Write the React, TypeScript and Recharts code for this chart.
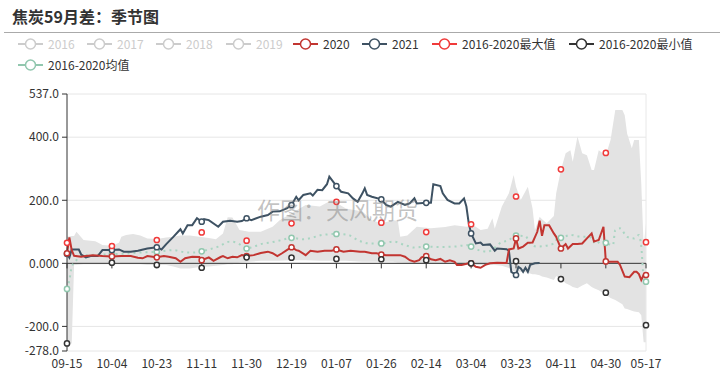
import React from "react";
import {
  ComposedChart,
  Line,
  Area,
  XAxis,
  YAxis,
  CartesianGrid,
  ReferenceLine,
} from "recharts";

// day index from 09-15, one per calendar day (Feb 29 included)
const tickDays = [0, 19, 38, 57, 76, 95, 114, 133, 152, 171, 190, 209, 228, 245];
const tickLabels = ["09-15", "10-04", "10-23", "11-11", "11-30", "12-19", "01-07", "01-26", "02-14", "03-04", "03-23", "04-11", "04-30", "05-17"];
const yTicks = [-278, -200, 0, 200, 400, 537];

const y2020: [number, number][] = [
  [0, 32], [1, 82], [2, 42], [3, 24], [6, 21], [8, 23], [11, 26], [15, 23], [19, 22], [23, 23],
  [27, 23], [30, 18], [32, 16], [34, 23], [37, 20], [38, 19], [41, 23], [43, 21], [46, 16], [48, 5],
  [50, 16], [53, 21], [56, 20], [57, 10], [60, 19], [62, 8], [65, 20], [66, 23], [68, 16], [70, 21],
  [72, 19], [74, 26], [76, 23], [79, 26], [82, 33], [85, 37], [87, 32], [89, 23], [91, 32], [93, 42],
  [95, 51], [97, 42], [98, 40], [101, 26], [103, 40], [106, 37], [109, 40], [112, 40], [114, 44], [117, 37],
  [120, 40], [124, 37], [126, 37], [129, 32], [131, 32], [133, 28], [135, 26], [138, 26], [141, 26], [143, 21],
  [145, 10], [147, 5], [149, 10], [150, 19], [152, 23], [154, 13], [156, 10], [158, 14], [160, 5], [162, 10],
  [164, 5], [165, -5], [167, -5], [170, 0], [171, 0], [173, -11], [175, -14], [177, -5], [179, 0], [182, 2],
  [186, 1], [187, 44], [189, 47], [190, 79], [191, 47], [193, 53], [195, 65], [197, 66], [199, 100], [200, 135],
  [201, 87], [202, 121], [204, 121], [206, 95], [207, 84], [209, 47], [211, 61], [212, 47], [214, 61], [216, 61],
  [218, 63], [220, 79], [222, 95], [223, 69], [225, 74], [227, 116], [228, 6], [230, 5], [233, 5], [234, -5],
  [236, -42], [238, -44], [240, -27], [241, -27], [242, -34], [243, -53], [244, -37], [245, -37],
];

const y2021: [number, number][] = [
  [0, 30], [1, 18], [2, 44], [5, 44], [6, 28], [8, 19], [10, 23], [13, 23], [15, 42], [19, 42],
  [22, 44], [24, 37], [27, 37], [30, 40], [34, 47], [38, 51], [40, 44], [42, 61], [45, 84], [47, 100],
  [48, 108], [49, 95], [51, 121], [53, 121], [55, 143], [57, 132], [58, 140], [60, 137], [64, 116], [66, 132],
  [69, 135], [72, 132], [74, 134], [76, 143], [78, 137], [82, 148], [85, 153], [87, 164], [90, 165], [93, 174],
  [95, 185], [97, 211], [98, 200], [100, 217], [103, 222], [104, 215], [106, 233], [108, 232], [110, 251], [111, 275],
  [113, 255], [114, 245], [116, 227], [119, 222], [121, 206], [123, 195], [125, 222], [126, 238], [127, 217], [129, 211],
  [133, 203], [135, 185], [137, 180], [140, 195], [143, 185], [145, 190], [147, 206], [148, 190], [152, 192], [154, 192],
  [155, 251], [158, 245], [159, 222], [161, 201], [164, 190], [166, 190], [168, 206], [169, 180], [170, 127], [171, 95],
  [173, 63], [175, 66], [176, 58], [179, 60], [181, 40], [182, 47], [186, 45], [187, 40], [188, -27], [190, -37],
  [191, -11], [192, -16], [193, -27], [194, -14], [195, -27], [196, -5], [198, 0], [200, 1],
];

const meanVals: [number, number][] = [
  [0, -81], [1, -53], [2, -11], [4, 10], [5, 21], [8, 26], [12, 27], [16, 28], [19, 29], [23, 30],
  [28, 33], [33, 35], [38, 37], [42, 40], [45, 42], [50, 35], [54, 34], [57, 38], [60, 44], [64, 53],
  [69, 69], [72, 65], [76, 47], [79, 53], [82, 61], [86, 66], [91, 74], [95, 81], [100, 76], [104, 82],
  [108, 90], [114, 93], [119, 90], [123, 74], [128, 63], [133, 63], [138, 69], [143, 58], [147, 50], [152, 53],
  [158, 52], [164, 53], [169, 58], [171, 53], [175, 40], [178, 37], [181, 50], [183, 63], [187, 74], [190, 88],
  [194, 86], [196, 63], [199, 53], [202, 55], [206, 63], [208, 83], [209, 81], [213, 90], [217, 85], [221, 84],
  [224, 61], [226, 72], [228, 65], [231, 58], [232, 105], [234, 111], [237, 84], [240, 79], [242, 90], [243, 53],
  [244, -42], [245, -58],
];

const maxVals = [65, 55, 74, 98, 72, 127, 195, 129, 99, 124, 212, 298, 350, 67];
const minVals = [-254, 2, -5, -14, 19, 18, 14, 13, 10, 0, 7, -50, -93, -196];

// 2016-2020 range band: [day, low, high]
const band: [number, number, number][] = [
  [0, -254, 84], [2, -254, 87], [3, -5, 87], [4, -5, 100], [7, -3, 74], [12, -3, 70], [15, -3, 58], [19, -3, 56],
  [22, -3, 65], [23, -3, 84], [25, -3, 90], [28, -3, 93], [31, -3, 88], [34, -5, 79], [38, -5, 77], [42, -5, 82],
  [45, -10, 84], [48, -16, 88], [52, -16, 88], [56, -12, 84], [60, -10, 80], [63, -8, 76], [66, -5, 95], [68, -3, 146],
  [70, -3, 145], [73, 2, 106], [77, 5, 100], [82, 8, 100], [87, 8, 116], [90, 8, 137], [95, 10, 159], [101, 10, 185],
  [107, 8, 180], [112, 8, 201], [118, 8, 174], [125, 5, 164], [129, 5, 137], [133, 5, 127], [138, 5, 137], [140, 3, 135],
  [141, 3, 84], [144, 2, 88], [148, 0, 116], [154, 0, 111], [160, 0, 115], [164, -3, 121], [169, -5, 116], [172, -5, 121],
  [175, -5, 106], [178, -5, 110], [180, -5, 143], [181, -5, 110], [184, -8, 180], [187, -15, 222], [189, -25, 280], [190, -27, 243],
  [192, -27, 201], [195, -30, 243], [197, -35, 174], [198, -35, 106], [200, -38, 148], [201, -42, 140], [203, -45, 127], [206, -53, 150],
  [207, -40, 222], [209, -50, 296], [211, -63, 349], [213, -70, 359], [214, -75, 322], [216, -79, 402], [218, -70, 349], [220, -63, 343],
  [222, -75, 296], [223, -79, 296], [225, -85, 359], [228, -100, 343], [230, -110, 391], [232, -116, 486], [235, -130, 486], [236, -143, 470],
  [237, -145, 412], [239, -150, 365], [240, -153, 391], [242, -155, 391], [243, -165, 254], [244, -250, 53], [245, -250, 127],
];

const legendItems = [
  { name: "2016", color: "#ccc", off: true },
  { name: "2017", color: "#ccc", off: true },
  { name: "2018", color: "#ccc", off: true },
  { name: "2019", color: "#ccc", off: true },
  { name: "2020", color: "#c23531", off: false },
  { name: "2021", color: "#3e5263", off: false },
  { name: "2016-2020最大值", color: "#f03a3a", off: false },
  { name: "2016-2020最小值", color: "#333", off: false },
  { name: "2016-2020均值", color: "#91c7ae", off: false },
];
const legendPos = [
  [18, 44], [87, 44], [156, 44], [226, 44], [293, 44], [362, 44], [432, 44], [569, 44], [18, 65],
];

const font = '"Noto Sans CJK SC", "Microsoft YaHei", sans-serif';
const tickSet = new Set(tickDays);
const toPts = (arr: [number, number][]) => arr.map(([d, v]) => ({ d, v }));

const tickDot = (color: string) => (props: any) => {
  const { cx, cy, payload, index } = props;
  if (!tickSet.has(payload.d)) return <g key={`n${index}`} />;
  return <circle key={`c${index}`} cx={cx} cy={cy} r={2.6} fill="#fff" stroke={color} strokeWidth={1.5} />;
};

const LegendIcon = ({ color }: { color: string }) => (
  <svg width={25} height={14} style={{ display: "block" }}>
    <line x1={0} y1={7} x2={25} y2={7} stroke={color} strokeWidth={2} />
    <circle cx={12.5} cy={7} r={5} fill="#fff" stroke={color} strokeWidth={1.5} />
  </svg>
);

export default function App() {
  const bandData = band.map(([d, lo, hi]) => ({ d, r: [lo, hi] }));
  const maxData = tickDays.map((d, i) => ({ d, v: maxVals[i] }));
  const minData = tickDays.map((d, i) => ({ d, v: minVals[i] }));

  return (
    <div style={{ position: "absolute", left: 0, top: 0, width: 723, height: 379, background: "#fff", fontFamily: font }}>
      <div style={{ position: "absolute", left: 12, top: 6, fontSize: 16, fontWeight: "bold", color: "#333", lineHeight: "20px" }}>
        焦炭59月差：季节图
      </div>
      <div style={{ position: "absolute", left: 4, top: 32, width: 716, height: 1, background: "#aaa" }} />
      {legendItems.map((it, i) => (
        <div
          key={it.name}
          style={{ position: "absolute", left: legendPos[i][0], top: legendPos[i][1] - 7, display: "flex", alignItems: "center", height: 14 }}
        >
          <LegendIcon color={it.color} />
          <span style={{ marginLeft: 5, fontSize: 12, color: it.off ? "#ccc" : "#333", lineHeight: "14px" }}>{it.name}</span>
        </div>
      ))}
      <div style={{ position: "absolute", left: 0, top: 0 }}>
        <ComposedChart width={723} height={379} margin={{ top: 94, right: 77, bottom: 0, left: 0 }}>
          <CartesianGrid horizontal vertical={false} stroke="#e6e6e6" />
          <XAxis
            type="number"
            dataKey="d"
            domain={[0, 245]}
            ticks={tickDays}
            interval={0}
            height={28}
            axisLine={false}
            tickLine={false}
            tickFormatter={(d: number) => tickLabels[tickDays.indexOf(d)]}
            tick={{ fontSize: 12, fill: "#333" }}
            allowDuplicatedCategory={false}
          />
          <YAxis
            type="number"
            domain={[-278, 537]}
            ticks={yTicks}
            interval={0}
            width={67}
            allowDataOverflow
            tickSize={5}
            tickMargin={3}
            axisLine={{ stroke: "#333" }}
            tickLine={{ stroke: "#333" }}
            tick={{ fontSize: 12, fill: "#333" }}
            tickFormatter={(v: number) => (v === 0 ? "0.000" : v.toFixed(1))}
          />
          <Area
            data={bandData}
            dataKey="r"
            type="linear"
            stroke="none"
            fill="#e3e3e3"
            fillOpacity={1}
            isAnimationActive={false}
          />
          <ReferenceLine x={245} stroke="#e8e8e8" />
          <ReferenceLine y={0} stroke="#333" strokeWidth={1} />
          {tickDays.map((d) => (
            <ReferenceLine key={`t${d}`} segment={[{ x: d, y: 0 }, { x: d, y: -16 }]} stroke="#333" />
          ))}
          <Line
            data={toPts(meanVals)}
            dataKey="v"
            type="monotone"
            stroke="#a9d5c2"
            strokeWidth={2}
            strokeDasharray="2 4"
            dot={tickDot("#91c7ae")}
            activeDot={false}
            isAnimationActive={false}
          />
          <Line
            data={toPts(y2021)}
            dataKey="v"
            type="linear"
            stroke="#3e5263"
            strokeWidth={2}
            dot={tickDot("#3e5263")}
            activeDot={false}
            isAnimationActive={false}
          />
          <Line
            data={toPts(y2020)}
            dataKey="v"
            type="linear"
            stroke="#c23531"
            strokeWidth={2}
            dot={tickDot("#c23531")}
            activeDot={false}
            isAnimationActive={false}
          />
          <Line
            data={maxData}
            dataKey="v"
            stroke="none"
            dot={tickDot("#f03a3a")}
            activeDot={false}
            isAnimationActive={false}
          />
          <Line
            data={minData}
            dataKey="v"
            stroke="none"
            dot={tickDot("#333")}
            activeDot={false}
            isAnimationActive={false}
          />
        </ComposedChart>
      </div>
      <div
        style={{
          position: "absolute",
          left: 257,
          top: 197,
          fontSize: 23,
          lineHeight: "24px",
          color: "rgba(120,120,120,0.45)",
          pointerEvents: "none",
          whiteSpace: "nowrap",
        }}
      >
        作图：天风期货
      </div>
    </div>
  );
}
